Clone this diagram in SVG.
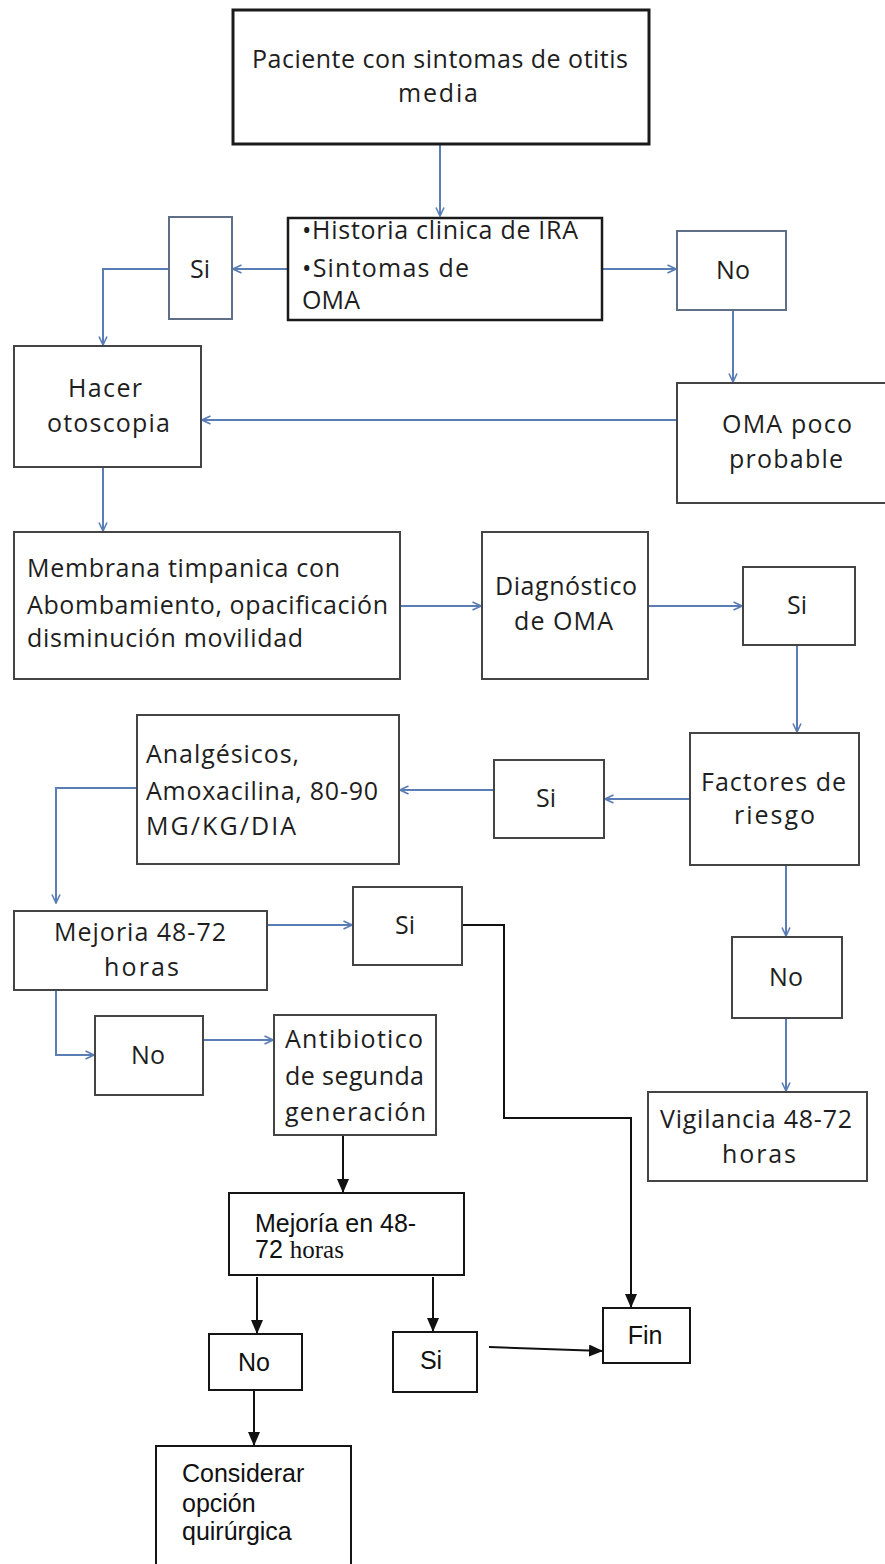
<svg xmlns="http://www.w3.org/2000/svg" width="885" height="1564" viewBox="0 0 885 1564">
<defs>
<style>
.bx{fill:#fff;stroke:#444;stroke-width:2}
.bs{fill:#fff;stroke:#5f6f88;stroke-width:2}
.bk{fill:#fff;stroke:#151515;stroke-width:2}
.t{font-family:"Open Sans","Liberation Sans",sans-serif;font-size:25px;fill:#1e1e1e}
.c{text-anchor:middle}
.tl{font-family:"Liberation Sans",Arial,sans-serif;font-size:25px;fill:#111}
.ts{font-family:"Liberation Serif","Times New Roman",serif;font-size:25px}
.cn{fill:none;stroke:#5a7db5;stroke-width:2;marker-end:url(#ab)}
.ck{fill:none;stroke:#111;stroke-width:2;marker-end:url(#ak)}
</style>
<marker id="ab" viewBox="0 0 10 10" refX="9.5" refY="5" markerWidth="10" markerHeight="10" markerUnits="userSpaceOnUse" orient="auto">
<path d="M1,1 L9.5,5 L1,9" fill="none" stroke="#5a7db5" stroke-width="1.6"/>
</marker>
<marker id="ak" viewBox="0 0 14 12" refX="14" refY="6" markerWidth="14" markerHeight="12" markerUnits="userSpaceOnUse" orient="auto">
<path d="M0,0 L14,6 L0,12 z" fill="#111"/>
</marker>
</defs>
<rect width="885" height="1564" fill="#fff"/>

<g id="connectors">
<path class="cn" d="M440,145 V216"/>
<path class="cn" d="M288,269 H233"/>
<path class="cn" d="M602,269 H676"/>
<path class="cn" d="M169,269 H103 V345"/>
<path class="cn" d="M733,311 V382"/>
<path class="cn" d="M677,420 H202"/>
<path class="cn" d="M103,468 V531"/>
<path class="cn" d="M400,606 H481"/>
<path class="cn" d="M648,606 H742"/>
<path class="cn" d="M797,646 V732"/>
<path class="cn" d="M690,799 H605"/>
<path class="cn" d="M494,790 H400"/>
<path class="cn" d="M137,788 H56 V903"/>
<path class="cn" d="M267,925 H352"/>
<path class="cn" d="M786,866 V936"/>
<path class="cn" d="M786,1019 V1091"/>
<path class="cn" d="M56,991 V1055 H94"/>
<path class="cn" d="M203,1040 H273"/>
<path class="ck" d="M343,1136 V1193"/>
<path class="ck" d="M257,1277 V1334"/>
<path class="ck" d="M433,1277 V1332"/>
<path class="ck" d="M489,1347 L603,1351"/>
<path class="ck" d="M254,1391 V1446"/>
<path class="ck" d="M462,925 H504 V1118 H631 V1308"/>
</g>

<g id="n1">
<rect x="233" y="10" width="416" height="134" fill="#fff" stroke="#1a1a1a" stroke-width="3"/>
<text class="t" x="252" y="68" textLength="376" lengthAdjust="spacing">Paciente con sintomas de otitis</text>
<text class="t" x="398" y="102" textLength="80" lengthAdjust="spacing">media</text>
</g>
<g id="n2">
<rect x="288" y="218" width="314" height="102" fill="#fff" stroke="#1a1a1a" stroke-width="2.5"/>
<text class="t" x="302" y="239" textLength="276" lengthAdjust="spacing">•Historia clinica de IRA</text>
<text class="t" x="302" y="277" textLength="167" lengthAdjust="spacing">•Sintomas de</text>
<text class="t" x="302" y="309" textLength="58" lengthAdjust="spacing">OMA</text>
</g>
<g id="n3">
<rect class="bs" x="169" y="217" width="63" height="102"/>
<text class="t c" x="200" y="278">Si</text>
</g>
<g id="n4">
<rect class="bs" x="677" y="231" width="109" height="79"/>
<text class="t c" x="733" y="279">No</text>
</g>
<g id="n5">
<rect class="bx" x="14" y="346" width="187" height="121"/>
<text class="t" x="68" y="397" textLength="74" lengthAdjust="spacing">Hacer</text>
<text class="t" x="47" y="432" textLength="123" lengthAdjust="spacing">otoscopia</text>
</g>
<g id="n6">
<rect class="bx" x="677" y="383" width="215" height="120"/>
<text class="t" x="722" y="433" textLength="130" lengthAdjust="spacing">OMA poco</text>
<text class="t" x="729" y="468" textLength="114" lengthAdjust="spacing">probable</text>
</g>
<g id="n7">
<rect class="bx" x="14" y="532" width="386" height="147"/>
<text class="t" x="27" y="577" textLength="313" lengthAdjust="spacing">Membrana timpanica con</text>
<text class="t" x="27" y="614" textLength="361" lengthAdjust="spacing">Abombamiento, opacificación</text>
<text class="t" x="27" y="647" textLength="276" lengthAdjust="spacing">disminución movilidad</text>
</g>
<g id="n8">
<rect class="bx" x="482" y="532" width="166" height="147"/>
<text class="t" x="495" y="595" textLength="142" lengthAdjust="spacing">Diagnóstico</text>
<text class="t" x="514" y="630" textLength="99" lengthAdjust="spacing">de OMA</text>
</g>
<g id="n9">
<rect class="bx" x="743" y="567" width="112" height="78"/>
<text class="t c" x="797" y="614">Si</text>
</g>
<g id="n10">
<rect class="bx" x="690" y="733" width="169" height="132"/>
<text class="t" x="701" y="791" textLength="145" lengthAdjust="spacing">Factores de</text>
<text class="t" x="734" y="824" textLength="81" lengthAdjust="spacing">riesgo</text>
</g>
<g id="n11">
<rect class="bx" x="494" y="760" width="110" height="78"/>
<text class="t c" x="546" y="807">Si</text>
</g>
<g id="n12">
<rect class="bx" x="137" y="715" width="262" height="149"/>
<text class="t" x="146" y="763" textLength="153" lengthAdjust="spacing">Analgésicos,</text>
<text class="t" x="146" y="800" textLength="232" lengthAdjust="spacing">Amoxacilina, 80-90</text>
<text class="t" x="146" y="835" textLength="150" lengthAdjust="spacing">MG/KG/DIA</text>
</g>
<g id="n13">
<rect class="bx" x="14" y="911" width="253" height="79"/>
<text class="t" x="54" y="941" textLength="172" lengthAdjust="spacing">Mejoria 48-72</text>
<text class="t" x="104" y="976" textLength="75" lengthAdjust="spacing">horas</text>
</g>
<g id="n14">
<rect class="bx" x="353" y="887" width="109" height="78"/>
<text class="t c" x="405" y="934">Si</text>
</g>
<g id="n15">
<rect class="bx" x="732" y="937" width="110" height="81"/>
<text class="t c" x="786" y="986">No</text>
</g>
<g id="n16">
<rect class="bx" x="95" y="1016" width="108" height="79"/>
<text class="t c" x="148" y="1064">No</text>
</g>
<g id="n17">
<rect class="bx" x="274" y="1015" width="162" height="120"/>
<text class="t" x="285" y="1048" textLength="138" lengthAdjust="spacing">Antibiotico</text>
<text class="t" x="285" y="1085" textLength="139" lengthAdjust="spacing">de segunda</text>
<text class="t" x="285" y="1121" textLength="141" lengthAdjust="spacing">generación</text>
</g>
<g id="n18">
<rect class="bx" x="648" y="1092" width="219" height="89"/>
<text class="t" x="660" y="1128" textLength="192" lengthAdjust="spacing">Vigilancia 48-72</text>
<text class="t" x="722" y="1163" textLength="74" lengthAdjust="spacing">horas</text>
</g>
<g id="n19">
<rect class="bk" x="229" y="1193" width="235" height="82"/>
<text class="tl" x="255" y="1232">Mejoría en 48-</text>
<text class="tl" x="255" y="1258">72 <tspan class="ts">horas</tspan></text>
</g>
<g id="n20">
<rect class="bk" x="209" y="1334" width="93" height="56"/>
<text class="tl c" x="254" y="1371">No</text>
</g>
<g id="n21">
<rect class="bk" x="393" y="1332" width="84" height="60"/>
<text class="tl c" x="431" y="1369">Si</text>
</g>
<g id="n22">
<rect class="bk" x="603" y="1308" width="87" height="55"/>
<text class="tl c" x="645" y="1344">Fin</text>
</g>
<g id="n23">
<rect class="bk" x="156" y="1446" width="195" height="130"/>
<text class="tl" x="182" y="1482">Considerar</text>
<text class="tl" x="182" y="1512">opción</text>
<text class="tl" x="182" y="1540">quirúrgica</text>
</g>
</svg>
